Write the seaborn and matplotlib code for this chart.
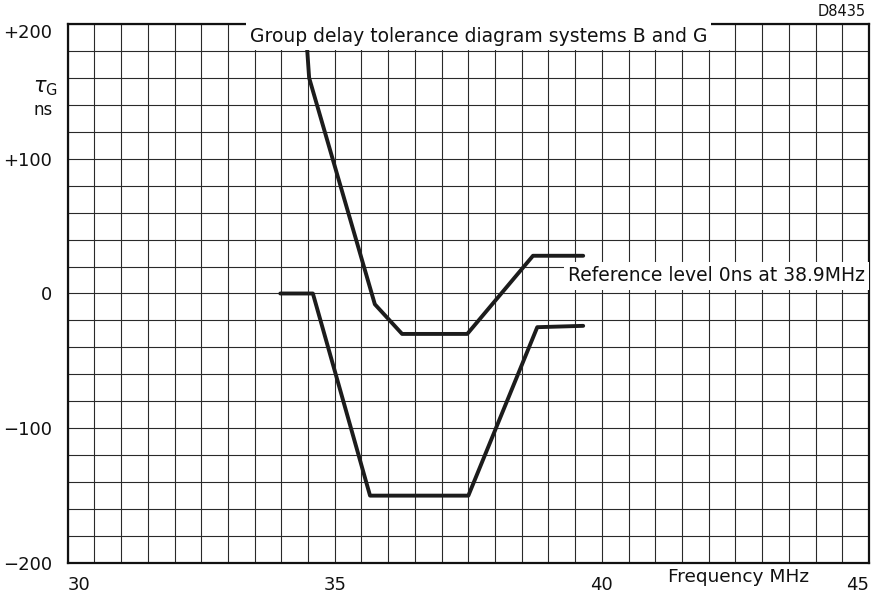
import numpy as np
import pandas as pd
import matplotlib
matplotlib.use("Agg")
import matplotlib.pyplot as plt
import seaborn as sns

# upper tolerance limit (frequency MHz, group delay ns)
upper_freq = [34.45, 34.52, 35.75, 36.26, 37.48, 38.71, 39.65]
upper_delay = [200, 160, -8, -30, -30, 28, 28]

# lower tolerance limit
lower_freq = [33.98, 34.59, 35.66, 37.50, 38.79, 39.65]
lower_delay = [0, 0, -150, -150, -25, -24]

x_ticks = [30, 35, 40, 45]
y_ticks = [-200, -100, 0, 100, 200]
y_tick_labels = ["\u2212200", "\u2212100", "0", "+100", "+200"]

df = pd.concat([
    pd.DataFrame({"freq": upper_freq, "delay": upper_delay, "limit": "upper"}),
    pd.DataFrame({"freq": lower_freq, "delay": lower_delay, "limit": "lower"}),
])

sns.set_style("white")
plt.rcParams["font.family"] = ["DejaVu Sans"]
plt.rcParams["text.color"] = "#111111"
plt.rcParams["xtick.color"] = "#111111"
plt.rcParams["ytick.color"] = "#111111"

fig = plt.figure(figsize=(8.81, 5.98), dpi=100)
ax = fig.add_axes([0.0768, 0.0585, 0.9096, 0.9014])

sns.lineplot(data=df, x="freq", y="delay", units="limit", estimator=None,
             sort=False, color="#1c1c1c", linewidth=2.8, ax=ax, zorder=3)

ax.set_xlim(30, 45)
ax.set_ylim(-200, 200)
ax.set_xticks(x_ticks)
ax.set_xticklabels([str(v) for v in x_ticks])
ax.set_yticks(y_ticks)
ax.set_yticklabels(y_tick_labels)
ax.set_xticks(np.arange(30, 45.01, 0.5), minor=True)
ax.set_yticks(np.arange(-200, 200.1, 20), minor=True)
ax.grid(which="both", color="#2a2a2a", linewidth=0.8)
ax.tick_params(which="both", length=0)
ax.tick_params(axis="x", pad=9, labelsize=13, labelcolor="#111111")
ax.tick_params(axis="y", pad=11, labelsize=13, labelcolor="#111111")
xl = ax.get_xticklabels()
xl[0].set_ha("left")
xl[-1].set_ha("right")
ax.get_yticklabels()[-1].set_va("top")
for s in ax.spines.values():
    s.set_color("#111111")
    s.set_linewidth(1.6)
ax.set_xlabel("")
ax.set_ylabel("")

box = dict(facecolor="white", edgecolor="none", pad=3)
ax.text(33.41, 191, "Group delay tolerance diagram systems B and G",
        ha="left", va="center", fontsize=13.5, bbox=box, zorder=5)
ax.text(39.37, 13, "Reference level 0ns at 38.9MHz",
        ha="left", va="center", fontsize=13.5, bbox=box, zorder=5)
ax.text(42.55, -204, "Frequency MHz", ha="center", va="top", fontsize=13.3)

fig.text(45 / 881, 1 - 88 / 598, r"$\tau_{\mathrm{G}}$", ha="center", va="center", fontsize=15)
fig.text(43 / 881, 1 - 110 / 598, "ns", ha="center", va="center", fontsize=12)
fig.text(866 / 881, 1 - 11 / 598, "D8435", ha="right", va="center", fontsize=10.5)

fig.savefig("out.png", dpi=100)
